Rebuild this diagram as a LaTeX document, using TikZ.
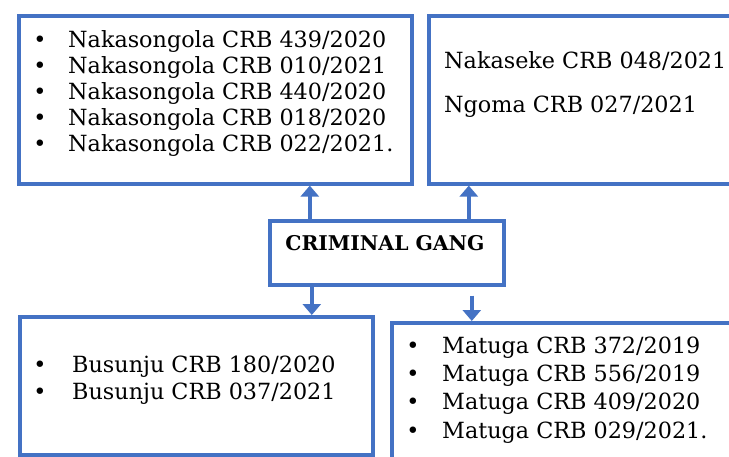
\documentclass[tikz,border=0pt]{standalone}
\usepackage{fontspec}
\setmainfont{DejaVu Serif}
\usetikzlibrary{arrows.meta}
\definecolor{boxblue}{RGB}{68,114,196}
\tikzset{
  box/.style={draw=boxblue, line width=3.6pt, rectangle, inner sep=0pt},
  arr/.style={draw=boxblue, line width=3.6pt,
    -{Triangle[width=18pt,length=11pt]}},
  item/.style={anchor=base west, inner sep=0pt, font=\fontsize{22.3}{26}\selectfont, text=black},
  dot/.style={anchor=base, inner sep=0pt, font=\fontsize{22.3}{26}\selectfont, text=black},
}
\begin{document}
\begin{tikzpicture}[x=1pt,y=-1pt]
\useasboundingbox (0,0) rectangle (729,456);
\clip (0,0) rectangle (729,456);
\fill[white] (0,0) rectangle (729,456);

% the five boxes
\node[box, minimum width=393pt, minimum height=168pt, anchor=north west] (tl) at (17,14) {};
\node[box, minimum width=320pt, minimum height=168pt, anchor=north west] (tr) at (427,14) {};
\node[box, minimum width=234pt, minimum height=64pt, anchor=north west] (gang) at (268,219) {};
\node[box, minimum width=353pt, minimum height=138pt, anchor=north west] (bl) at (18,315) {};
\node[box, minimum width=360pt, minimum height=160pt, anchor=north west] (br) at (390,321) {};

% central label
\node[anchor=base, inner sep=0pt, font=\fontsize{20.3}{24}\selectfont\bfseries] (gangtxt) at (385,250) {CRIMINAL GANG};

% top left list
\foreach \t [count=\i] in {Nakasongola CRB 439/2020, Nakasongola CRB 010/2021,
  Nakasongola CRB 440/2020, Nakasongola CRB 018/2020, Nakasongola CRB 022/2021.}{
  \node[dot] (tlb\i) at (40,{47+26.2*(\i-1)}) {•};
  \node[item] (tlt\i) at (68,{47+26.2*(\i-1)}) {\t};
}

% top right entries
\node[item] (tr1) at (444,68) {Nakaseke CRB 048/2021};
\node[item] (tr2) at (444,112) {Ngoma CRB 027/2021};

% bottom left list
\foreach \t [count=\i] in {Busunju CRB 180/2020, Busunju CRB 037/2021}{
  \node[dot] (blb\i) at (40,{372+27*(\i-1)}) {•};
  \node[item] (blt\i) at (72,{372+27*(\i-1)}) {\t};
}

% bottom right list
\foreach \t [count=\i] in {Matuga CRB 372/2019, Matuga CRB 556/2019,
  Matuga CRB 409/2020, Matuga CRB 029/2021.}{
  \node[dot] (brb\i) at (413,{353+28.4*(\i-1)}) {•};
  \node[item] (brt\i) at (442,{353+28.4*(\i-1)}) {\t};
}

% connectors from the central box
\draw[arr] ([xshift=-77pt]gang.north) -- ([xshift=-77pt]gang.north |- tl.south);
\draw[arr] ([xshift=82pt]gang.north) -- ([xshift=82pt]gang.north |- tr.south);
\draw[arr] ([xshift=-75pt]gang.south) -- ([xshift=-75pt]gang.south |- bl.north);
\draw[arr, shorten <=9pt] ([xshift=85pt]gang.south) -- ([xshift=85pt]gang.south |- br.north);
\end{tikzpicture}
\end{document}
